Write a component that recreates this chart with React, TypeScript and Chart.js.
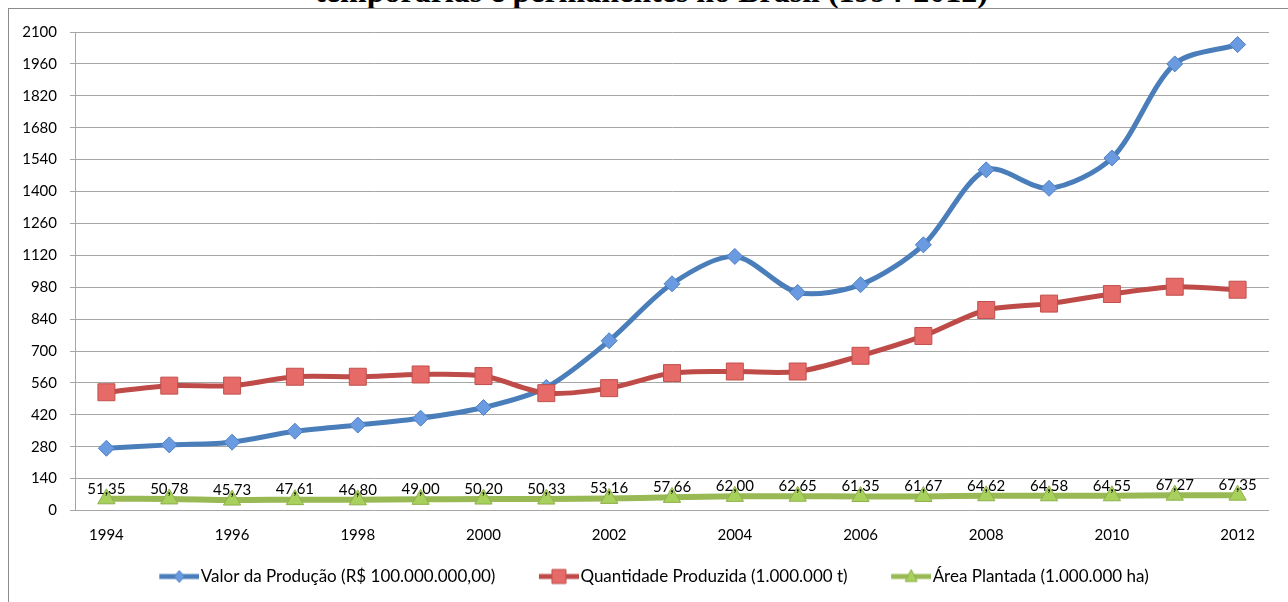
import React, { useEffect, useRef } from 'react';
import { Chart, registerables } from 'chart.js';

Chart.register(...registerables);

const years = ['1994', '1995', '1996', '1997', '1998', '1999', '2000', '2001', '2002', '2003', '2004', '2005', '2006', '2007', '2008', '2009', '2010', '2011', '2012'];
const valorProducao = [273, 288, 300, 348, 375, 405, 452, 540, 745, 995, 1115, 957, 991, 1166, 1495, 1414, 1547, 1960, 2045];
const quantidadeProduzida = [519, 548, 548, 587, 587, 597, 590, 515, 537, 603, 610, 610, 679, 766, 880, 908, 950, 982, 969];
const areaPlantada = [51.35, 50.78, 45.73, 47.61, 46.8, 49.0, 50.2, 50.33, 53.16, 57.66, 62.0, 62.65, 61.35, 61.67, 64.62, 64.58, 64.55, 67.27, 67.35];
const seriesNames = ['Valor da Produção (R$ 100.000.000,00)', 'Quantidade Produzida (1.000.000 t)', 'Área Plantada (1.000.000 ha)'];
const yMax = 2100;
const yStep = 140;
const titleText = 'temporárias e permanentes no Brasil (1994-2012)';

const BLUE = '#4a7ebb';
const BLUE_FILL = '#6a9be0';
const RED = '#be4b48';
const RED_FILL = '#e66a68';
const GREEN = '#98b954';
const GREEN_FILL = '#a8d05c';
const FONT = 'Lato';

function makeSample(line: string, fill: string, border: string, marker: string): HTMLCanvasElement {
  const c = document.createElement('canvas');
  c.width = 68;
  c.height = 18;
  const ctx = c.getContext('2d')!;
  ctx.strokeStyle = line;
  ctx.lineWidth = 5;
  ctx.beginPath();
  ctx.moveTo(28, 9);
  ctx.lineTo(68, 9);
  ctx.stroke();
  ctx.fillStyle = fill;
  ctx.strokeStyle = border;
  ctx.lineWidth = 1;
  const cx = 48, cy = 9;
  ctx.beginPath();
  if (marker === 'diamond') {
    ctx.moveTo(cx, cy - 6); ctx.lineTo(cx + 5, cy); ctx.lineTo(cx, cy + 6); ctx.lineTo(cx - 5, cy); ctx.closePath();
  } else if (marker === 'square') {
    ctx.rect(cx - 7, cy - 7, 14, 14);
  } else {
    ctx.moveTo(cx, cy - 7); ctx.lineTo(cx + 6, cy + 5); ctx.lineTo(cx - 6, cy + 5); ctx.closePath();
  }
  ctx.fill();
  ctx.stroke();
  return c;
}

const areaLabelPlugin = {
  id: 'areaLabels',
  afterDatasetsDraw(chart: any) {
    const meta = chart.getDatasetMeta(2);
    const ctx = chart.ctx;
    ctx.save();
    ctx.font = `15px ${FONT}`;
    ctx.fillStyle = '#000';
    ctx.textAlign = 'center';
    ctx.textBaseline = 'middle';
    meta.data.forEach((pt: any, i: number) => {
      ctx.fillText(areaPlantada[i].toFixed(2).replace('.', ','), pt.x, pt.y - 10);
    });
    ctx.restore();
  },
};

export default function App() {
  const ref = useRef<HTMLCanvasElement>(null);
  useEffect(() => {
    const samples = [
      makeSample(BLUE, BLUE_FILL, '#4f7fc4', 'diamond'),
      makeSample(RED, RED_FILL, '#c0504d', 'square'),
      makeSample(GREEN, GREEN_FILL, '#8fb04a', 'triangle'),
    ];
    const chart = new Chart(ref.current!, {
      type: 'line',
      data: {
        labels: years,
        datasets: [
          {
            label: seriesNames[0],
            data: valorProducao,
            borderColor: BLUE,
            backgroundColor: BLUE_FILL,
            borderWidth: 5,
            tension: 0.3,
            pointStyle: 'rectRot',
            pointRadius: 8,
            pointBackgroundColor: BLUE_FILL,
            pointBorderColor: '#4f7fc4',
            pointBorderWidth: 1,
            order: 2,
            clip: false,
          },
          {
            label: seriesNames[1],
            data: quantidadeProduzida,
            borderColor: RED,
            backgroundColor: RED_FILL,
            borderWidth: 5,
            tension: 0.3,
            pointStyle: 'rect',
            pointRadius: 12,
            pointBackgroundColor: RED_FILL,
            pointBorderColor: '#c0504d',
            pointBorderWidth: 1,
            order: 1,
            clip: false,
          },
          {
            label: seriesNames[2],
            data: areaPlantada,
            borderColor: GREEN,
            backgroundColor: GREEN_FILL,
            borderWidth: 6,
            tension: 0.3,
            pointStyle: 'triangle',
            pointRadius: 10,
            pointBackgroundColor: GREEN_FILL,
            pointBorderColor: '#8fb04a',
            pointBorderWidth: 1,
            order: 0,
            clip: false,
          },
        ],
      },
      options: {
        responsive: false,
        animation: false,
        devicePixelRatio: 1,
        layout: { padding: { left: 9, right: 19, top: 23, bottom: 7 } },
        plugins: {
          title: { display: false },
          tooltip: { enabled: false },
          legend: {
            position: 'bottom',
            labels: {
              usePointStyle: true,
              pointStyleWidth: 54,
              padding: 22.5,
              color: '#000',
              font: { family: FONT, size: 17 },
              generateLabels: (c: any) =>
                c.data.datasets.map((ds: any, i: number) => ({
                  text: ds.label,
                  pointStyle: samples[i],
                  fillStyle: ds.borderColor,
                  strokeStyle: ds.borderColor,
                  lineWidth: 0,
                  hidden: false,
                  datasetIndex: i,
                  fontColor: '#000',
                })),
            },
          },
        },
        scales: {
          x: {
            offset: true,
            grid: { display: false, drawTicks: false, offset: true },
            border: { display: false },
            ticks: {
              autoSkip: false,
              maxRotation: 0,
              padding: 15.5,
              color: '#000',
              font: { family: FONT, size: 15 },
              callback: (_v: any, i: number) => (i % 2 === 0 ? years[i] : ''),
            },
            afterFit: (axis: any) => {
              axis.height = 35;
            },
          },
          y: {
            min: 0,
            max: yMax,
            grid: { color: '#a6a6a6', lineWidth: 1, tickLength: 5 },
            border: { display: true, color: '#a6a6a6', width: 1 },
            ticks: {
              stepSize: yStep,
              padding: 13,
              color: '#000',
              font: { family: FONT, size: 15 },
              callback: (v: any) => String(v),
            },
            afterFit: (axis: any) => {
              axis.width = 57;
            },
          },
        },
      },
      plugins: [areaLabelPlugin],
    } as any);
    return () => chart.destroy();
  }, []);

  return (
    <div style={{ position: 'fixed', left: 0, top: 0, width: 1288, height: 602, overflow: 'hidden', background: '#fff' }}>
      <div
        style={{
          position: 'absolute',
          left: 0,
          top: -25,
          width: 1303,
          textAlign: 'center',
          fontFamily: '"Liberation Serif", "Times New Roman", serif',
          fontWeight: 'bold',
          fontSize: 32,
          lineHeight: '32px',
          whiteSpace: 'nowrap',
          color: '#000',
        }}
      >
        {titleText}
      </div>
      <div style={{ position: 'absolute', left: 8, top: 8, width: 1300, height: 700, border: '1px solid #8c8c8c' }} />
      <div style={{ position: 'absolute', left: 9, top: 9, width: 1279, height: 593 }}>
        <canvas ref={ref} width={1279} height={593} style={{ display: 'block' }} />
      </div>
    </div>
  );
}
